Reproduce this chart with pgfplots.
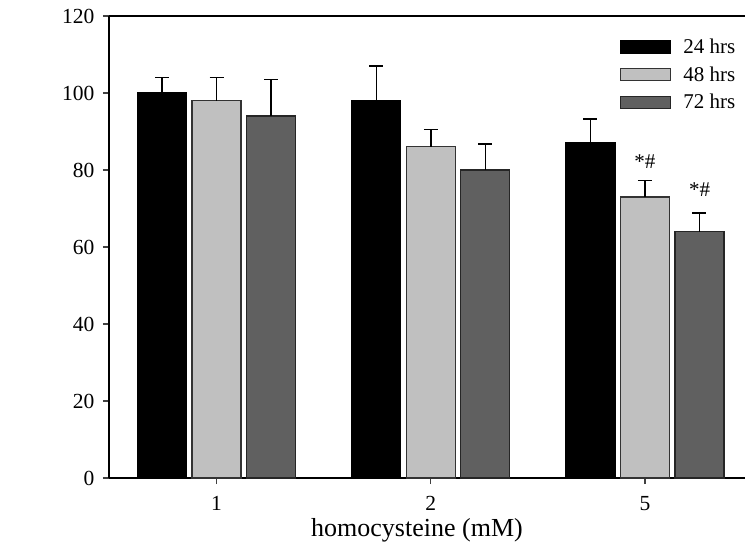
\documentclass[border=0pt]{standalone}
\usepackage{pgfplots}
\pgfplotsset{compat=1.18}
\usepackage{fontspec}
\setmainfont{Liberation Serif}
\definecolor{lightbar}{HTML}{C0C0C0}
\definecolor{darkbar}{HTML}{606060}
\begin{document}
\begin{tikzpicture}
\useasboundingbox (0,0) rectangle (745pt,547pt);
\begin{axis}[
  at={(109pt,69pt)}, anchor=south west,
  scale only axis, width=636pt, height=462pt,
  xmin=0.498, xmax=3.467, ymin=0, ymax=120,
  ybar=5.5pt, bar width=49pt,
  xtick={1,2,3}, xticklabels={1,2,5},
  ytick={0,20,...,120},
  axis x line*=box, axis y line*=left,
  tick align=outside, tick pos=left,
  major tick length=6pt,
  tick style={line width=1.2pt, color=black!75},
  axis line style={line width=1.5pt},
  ticklabel style={font=\fontsize{21.5}{24}\selectfont},
  yticklabel style={xshift=-5pt},
  xticklabel style={yshift=-9pt},
  /pgf/number format/assume math mode=true,
  xlabel={homocysteine (mM)},
  xlabel style={font=\fontsize{26}{30}\selectfont, yshift=-1pt, xshift=-10pt},
  legend style={at={(rel axis cs:0.8035,0.955)}, anchor=north west, draw=none, fill=none,
    font=\fontsize{21}{25}\selectfont, row sep=7.5pt, inner sep=0pt,
    /tikz/every odd column/.append style={column sep=10pt}},
  legend image code/.code={\draw[#1] (0pt,-6pt) rectangle (50pt,6pt);},
  legend cell align=left,
  error bars/y dir=plus, error bars/y explicit,
  error bars/error bar style={line width=1.5pt, black},
  error bars/error mark options={rotate=90, mark size=7pt, line width=1.5pt, black},
]
\addplot[fill=black, draw=black, line width=1.2pt] coordinates {(1,100) +- (0,4) (2,98) +- (0,9) (3,87) +- (0,6.2)};
\addplot[fill=lightbar, draw=black!80, line width=1.2pt] coordinates {(1,98) +- (0,6) (2,86) +- (0,4.5) (3,73) +- (0,4.3)};
\addplot[fill=darkbar, draw=black!85, line width=1.2pt] coordinates {(1,94) +- (0,9.5) (2,80) +- (0,6.8) (3,64) +- (0,4.8)};
\legend{24 hrs, 48 hrs, 72 hrs}
\node[font=\fontsize{21}{25}\selectfont] at (axis cs:3,82.3) {*\#};
\node[font=\fontsize{21}{25}\selectfont] at (axis cs:3.2547,74.8) {*\#};
\end{axis}
\end{tikzpicture}
\end{document}
